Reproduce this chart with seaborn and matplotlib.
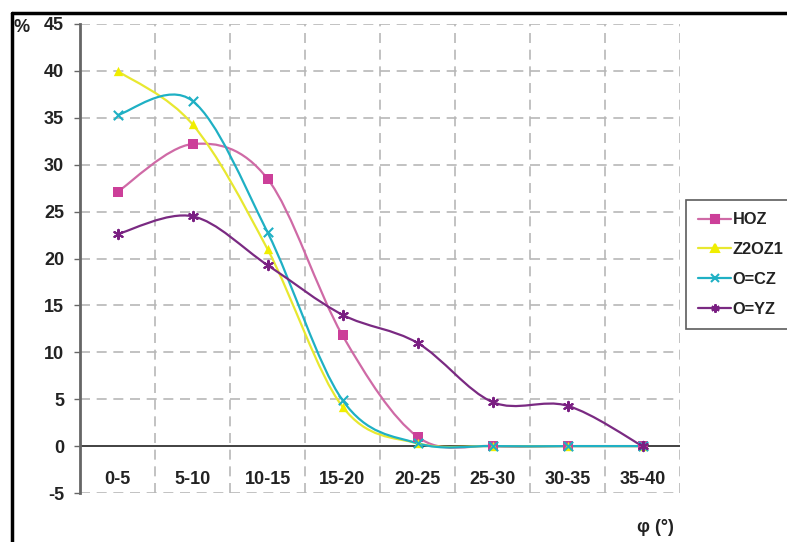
import numpy as np
import pandas as pd
import matplotlib.pyplot as plt
import seaborn as sns
from matplotlib.path import Path
from matplotlib.patches import PathPatch
from matplotlib.lines import Line2D

sns.set_theme(style='white')
plt.rcParams['font.family'] = ['Liberation Sans', 'DejaVu Sans']
plt.rcParams['axes.unicode_minus'] = False

categories = ['0-5', '5-10', '10-15', '15-20', '20-25', '25-30', '30-35', '35-40']
hoz = [27.1, 32.2, 28.5, 11.8, 1.0, 0.0, 0.0, 0.0]
z2oz1 = [40.0, 34.3, 21.0, 4.2, 0.3, 0.0, 0.0, 0.0]
o_cz = [35.3, 36.8, 22.8, 4.9, 0.3, 0.0, 0.0, 0.0]
o_yz = [22.6, 24.5, 19.3, 14.0, 11.0, 4.7, 4.3, 0.0]

series = ['HOZ', 'Z2OZ1', 'O=CZ', 'O=YZ']
line_colors = {'HOZ': '#cf6aa6', 'Z2OZ1': '#e8e830', 'O=CZ': '#1fb0c4', 'O=YZ': '#7a2a82'}
marker_colors = {'HOZ': '#cc3f99', 'Z2OZ1': '#f0ee00', 'O=CZ': '#1fb0c4', 'O=YZ': '#7a1f82'}
markers = {'HOZ': 's', 'Z2OZ1': '^', 'O=CZ': 'x', 'O=YZ': (6, 2, 0)}

df = pd.DataFrame({'cat': categories, 'HOZ': hoz, 'Z2OZ1': z2oz1,
                   'O=CZ': o_cz, 'O=YZ': o_yz})
df['x'] = np.arange(len(categories))
long = df.melt(id_vars=['cat', 'x'], value_vars=series, var_name='series', value_name='pct')


def smooth_path(xs, ys):
    # excel-like smoothed line: cubic bezier through the points
    pts = np.column_stack([np.asarray(xs, float), np.asarray(ys, float)])
    n = len(pts)
    verts = [pts[0]]
    codes = [Path.MOVETO]
    for i in range(n - 1):
        p0 = pts[i - 1] if i > 0 else pts[i]
        p1, p2 = pts[i], pts[i + 1]
        p3 = pts[i + 2] if i + 2 < n else pts[i + 1]
        c1 = p1 + (p2 - p0) / 6
        c2 = p2 - (p3 - p1) / 6
        verts += [c1, c2, p2]
        codes += [Path.CURVE4] * 3
    return Path(verts, codes)


fig = plt.figure(figsize=(7.87, 5.42), dpi=100)
ax = fig.add_axes([80 / 787, 1 - 493 / 542, 600 / 787, 469 / 542])

for s in series:
    sub = long[long['series'] == s]
    ax.add_patch(PathPatch(smooth_path(sub['x'], sub['pct']), fill=False,
                           edgecolor=line_colors[s], lw=1.6, zorder=3))
    filled = markers[s] in ('s', '^')
    sns.scatterplot(data=sub, x='x', y='pct', marker=markers[s], s=45,
                    color=marker_colors[s],
                    edgecolor=None if filled else marker_colors[s],
                    linewidth=0 if filled else 1.5, ax=ax, legend=False, zorder=4)

ax.set_xlim(-0.5, len(categories) - 0.5)
ax.set_ylim(-5, 45)
ax.set_yticks(np.arange(-5, 46, 5))
ax.set_xticks(df['x'], categories)
ax.set_xlabel('')
ax.set_ylabel('')

# dashed grid
for yv in np.arange(-5, 46, 5):
    if yv != 0:
        ax.axhline(yv, color='#b8b8b8', lw=1.2, ls=(0, (6, 4)), zorder=1)
for xv in np.arange(0.5, len(categories) + 0.5, 1):
    ax.axvline(xv, color='#b8b8b8', lw=1.2, ls=(0, (6, 4)), zorder=1)
ax.axhline(0, color='#333333', lw=1.3, zorder=2)

for side in ['top', 'right', 'bottom']:
    ax.spines[side].set_visible(False)
ax.spines['left'].set_color('#666666')
ax.spines['left'].set_linewidth(2)

fs = 13
ax.tick_params(axis='y', left=True, length=4, width=1, color='#666666',
               labelsize=fs, pad=7.5, labelcolor='#222222')
ax.tick_params(axis='x', bottom=False, labelsize=fs, pad=-22, labelcolor='#222222')
for lab in ax.get_xticklabels() + ax.get_yticklabels():
    lab.set_fontweight('bold')

fig.text(14 / 787, 1 - 27 / 542, '%', fontsize=fs, fontweight='bold',
         color='#222222', va='center', ha='left')
fig.text(655 / 787, 1 - 528 / 542, 'φ (°)', fontsize=fs, fontweight='bold',
         color='#222222', va='center', ha='center')

handles = [Line2D([0], [0], color=line_colors[s], lw=1.6, marker=markers[s],
                  markersize=6, markerfacecolor=marker_colors[s],
                  markeredgecolor=marker_colors[s], markeredgewidth=1.5)
           for s in series]
leg = fig.legend(handles, series, loc='upper left',
                 bbox_to_anchor=(686 / 787, 1 - 200 / 542), frameon=True,
                 fancybox=False, edgecolor='#333333', fontsize=11.8,
                 handlelength=2.0, handletextpad=0.1, labelspacing=0.9,
                 borderpad=0.75, borderaxespad=0)
leg.get_frame().set_linewidth(1.2)
for t in leg.get_texts():
    t.set_fontweight('bold')
    t.set_color('#222222')

# image border
fig.add_artist(Line2D([12 / 787, 1], [1 - 13 / 542, 1 - 13 / 542],
                      color='black', lw=2.5, transform=fig.transFigure))
fig.add_artist(Line2D([12 / 787, 12 / 787], [0, 1 - 13 / 542],
                      color='black', lw=2.5, transform=fig.transFigure))

fig.savefig('out.png', dpi=100)
